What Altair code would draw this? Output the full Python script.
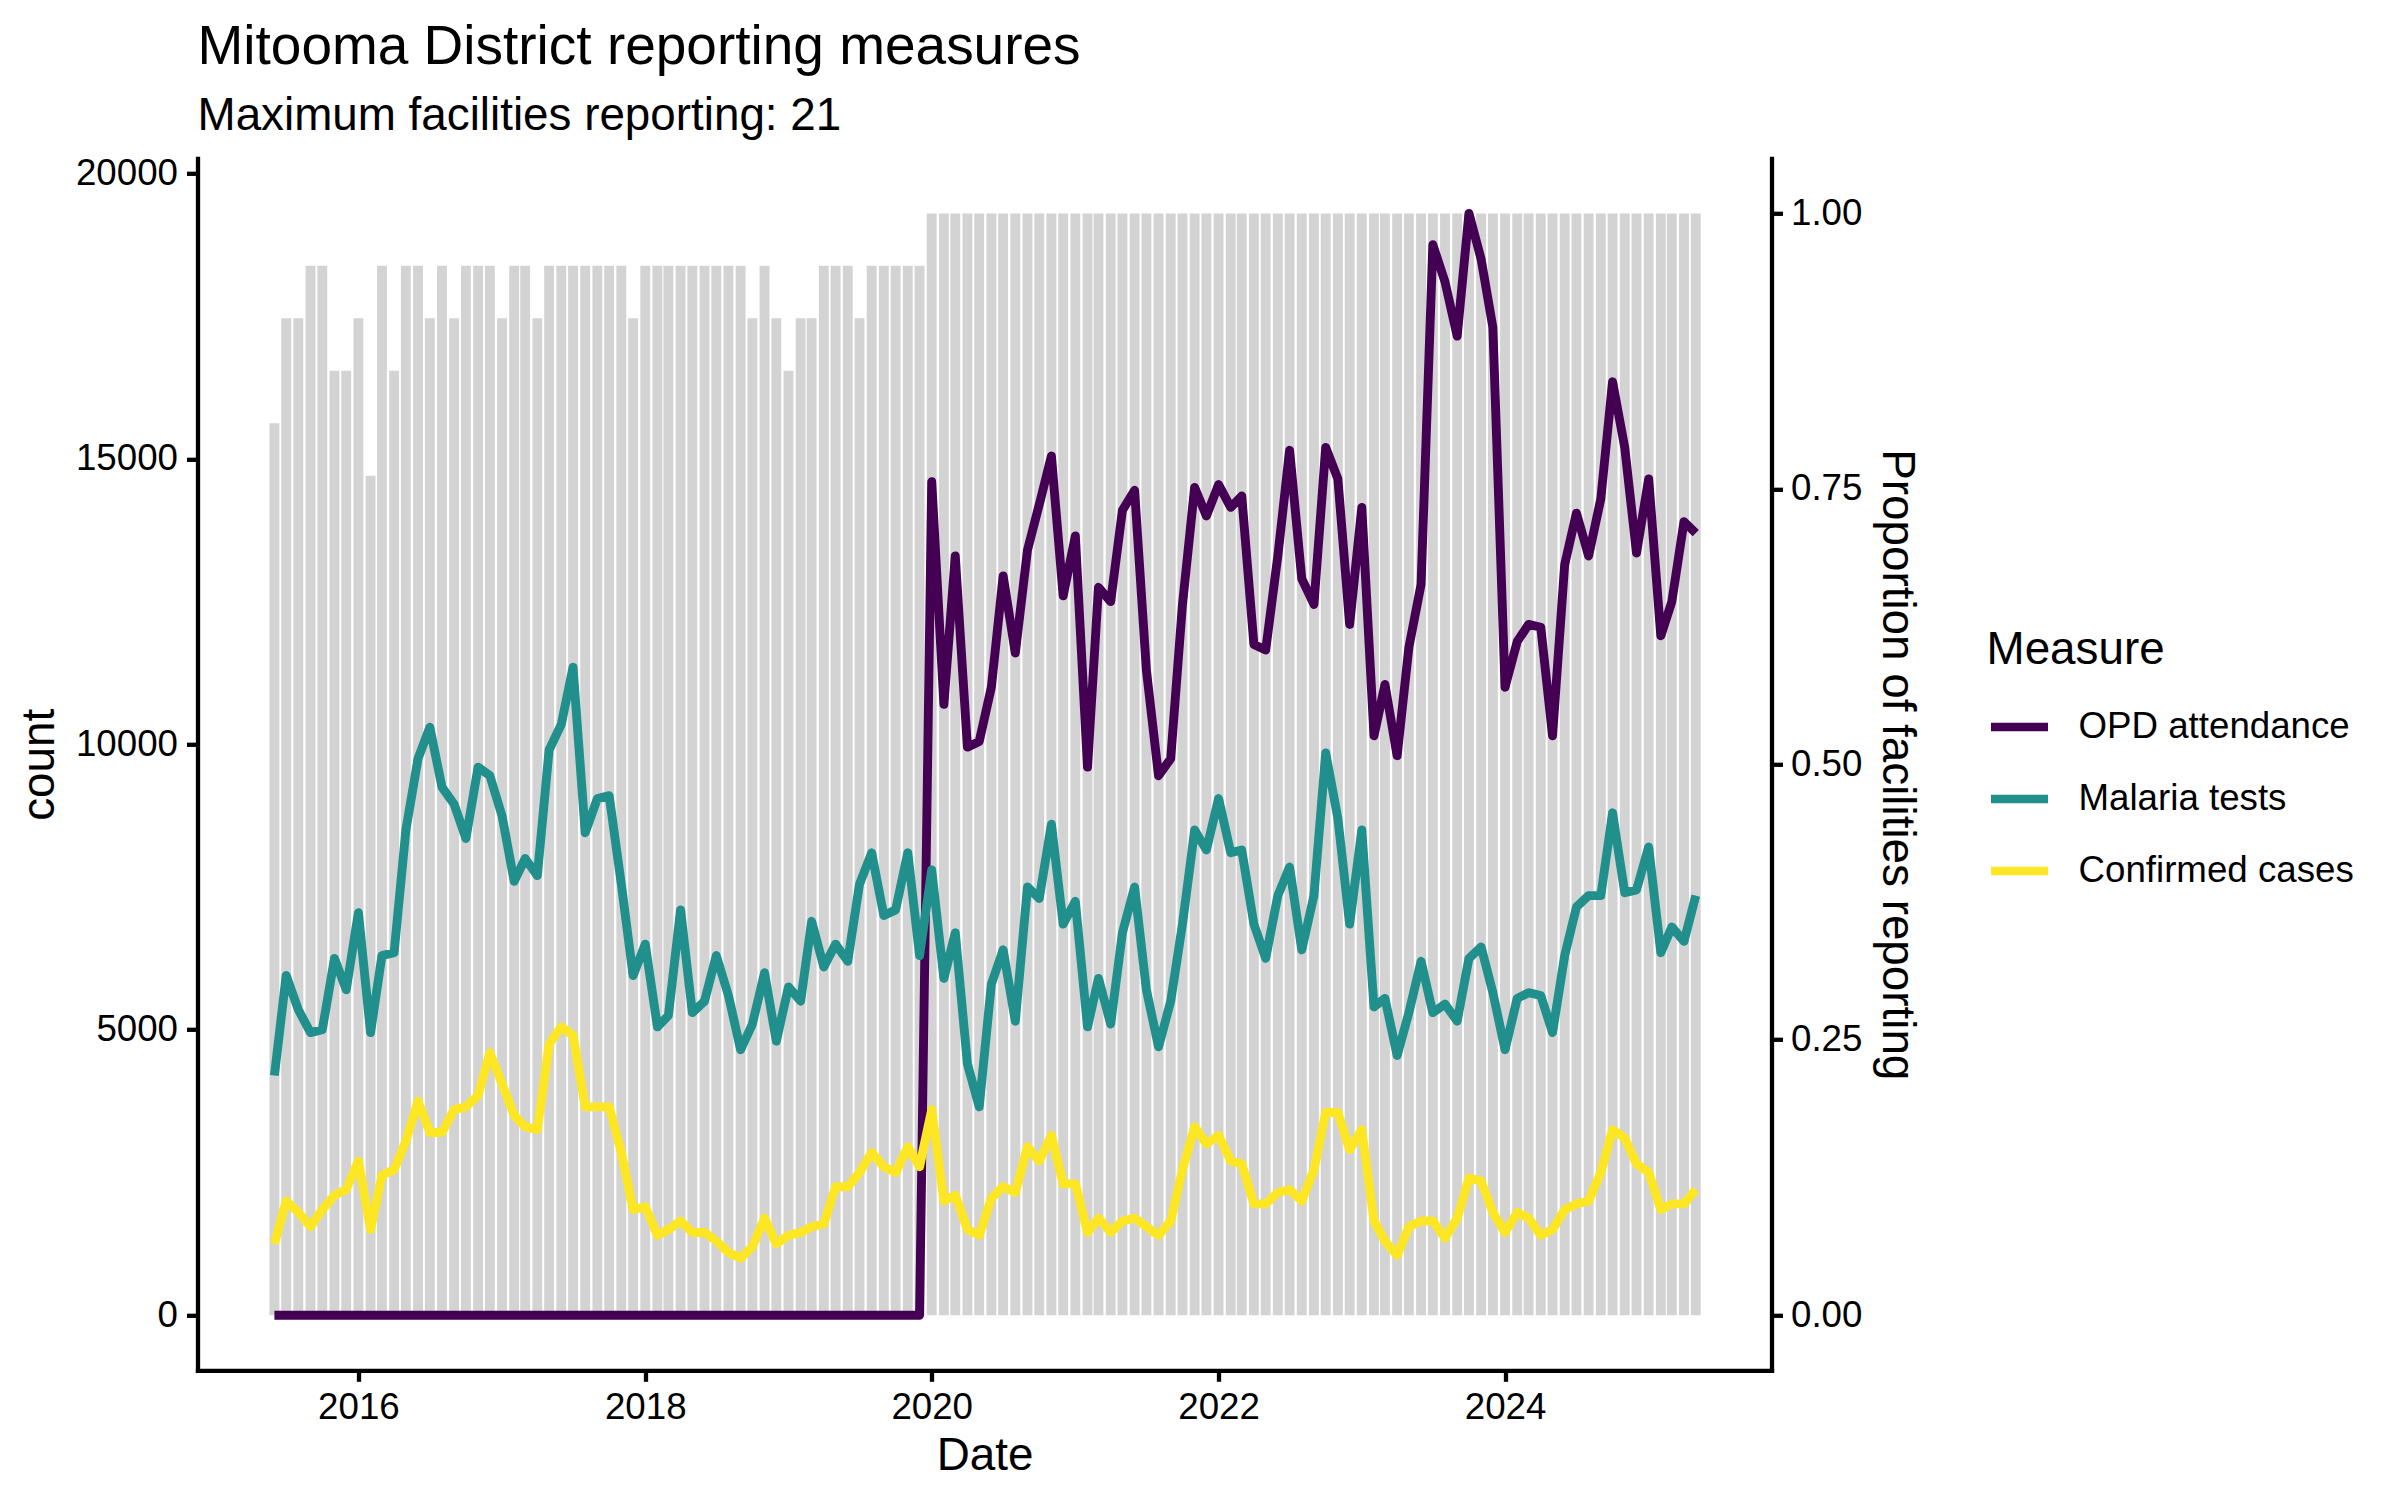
import altair as alt
import pandas as pd

# ---------------- data (monthly, Jun 2015 .. May 2025) ----------------
start_month = "2015-06-01"
n_months = 120
max_facilities = 21

facilities_reporting = [
    17, 19, 19, 20, 20, 18, 18, 19, 16, 20, 18,
    20, 20, 19, 20, 19, 20, 20, 20, 19, 20, 20, 19,
    20, 20, 20, 20, 20, 20, 20, 19,
    20, 20, 20, 20, 20, 20, 20, 20, 20,
    19, 20, 19, 18, 19, 19, 20, 20, 20, 19, 20, 20, 20, 20, 20,
] + [21] * 65

opd_attendance = [0] * 55 + [
    14600, 10700, 13300, 9950, 10050, 11000, 12950, 11600, 13400, 14200, 15050, 12600,
    13650, 9600, 12750, 12500, 14100, 14450, 11300, 9450, 9750, 12450, 14500, 14000,
    14550, 14150, 14350, 11750, 11650, 13300, 15150, 12900, 12450, 15200, 14650, 12100,
    14150, 10150, 11050, 9800, 11700, 12800, 18750, 18100, 17150, 19300, 18500, 17300,
    11000, 11800, 12100, 12050, 10150, 13150, 14050, 13300, 14300, 16350, 15200, 13350,
    14650, 11900, 12500, 13900, 13700,
]

malaria_tests = [
    4200, 5950, 5350, 4950, 5000, 6250, 5700, 7050, 4950, 6300, 6350, 8500,
    9750, 10300, 9250, 8950, 8350, 9600, 9450, 8750, 7600, 8000, 7700, 9900,
    10350, 11350, 8450, 9050, 9100, 7550, 5950, 6500, 5050, 5250, 7100, 5300,
    5500, 6300, 5600, 4650, 5100, 6000, 4800, 5750, 5500, 6900, 6100, 6500,
    6200, 7550, 8100, 7000, 7100, 8100, 6300, 7800, 5900, 6700, 4400, 3650,
    5800, 6400, 5150, 7500, 7300, 8600, 6850, 7250, 5050, 5900, 5100, 6700,
    7500, 5700, 4700, 5500, 6850, 8500, 8150, 9050, 8100, 8150, 6850, 6250,
    7350, 7850, 6400, 7350, 9850, 8700, 6850, 8500, 5400, 5550, 4550, 5300,
    6200, 5300, 5450, 5150, 6250, 6450, 5650, 4650, 5550, 5650, 5600, 4950,
    6300, 7150, 7350, 7350, 8800, 7400, 7450, 8200, 6350, 6800, 6550, 7350,
]

confirmed_cases = [
    1250, 2000, 1800, 1550, 1850, 2100, 2200, 2700, 1500, 2450, 2550, 3050,
    3750, 3200, 3200, 3600, 3650, 3850, 4600, 4050, 3500, 3300, 3250, 4750,
    5050, 4900, 3650, 3650, 3650, 2850, 1850, 1900, 1400, 1500, 1650, 1450,
    1450, 1300, 1100, 1000, 1200, 1700, 1250, 1400, 1450, 1550, 1600, 2250,
    2250, 2500, 2850, 2600, 2500, 2950, 2600, 3600, 2000, 2100, 1500, 1400,
    2050, 2250, 2150, 2950, 2700, 3150, 2300, 2300, 1450, 1700, 1450, 1650,
    1700, 1550, 1400, 1650, 2550, 3300, 3000, 3150, 2700, 2650, 1950, 1950,
    2150, 2200, 2000, 2550, 3550, 3550, 2900, 3250, 1650, 1300, 1050, 1550,
    1650, 1650, 1350, 1700, 2400, 2350, 1800, 1450, 1800, 1700, 1400, 1500,
    1850, 1950, 2000, 2500, 3250, 3100, 2650, 2500, 1850, 1950, 1950, 2200,
]

measures = ["OPD attendance", "Malaria tests", "Confirmed cases"]
measure_colors = ["#440154", "#21908C", "#FDE725"]

# ---------------- tables ----------------
dates = pd.date_range(start_month, periods=n_months, freq="MS")
fmt = "%Y-%m-%dT%H:%M:%SZ"
half_bar = pd.Timedelta(hours=12.6 * 24)

bar_df = pd.DataFrame({
    "start": (dates - half_bar).strftime(fmt),
    "end": (dates + half_bar).strftime(fmt),
    "prop": [f / max_facilities for f in facilities_reporting],
})

line_df = pd.concat([
    pd.DataFrame({"date": dates.strftime(fmt), "count": vals, "Measure": name})
    for name, vals in zip(measures, [opd_attendance, malaria_tests, confirmed_cases])
], ignore_index=True)

max_count = max(opd_attendance)

# ---------------- styling ----------------
FONT = "Liberation Sans"
TICK_FS = 36.7
TITLE_FS = 45.8
LW = 4.3

x_scale = alt.Scale(
    type="utc",
    domain=[alt.DateTime(year=2014, month=11, date=17, utc=True),
            alt.DateTime(year=2025, month=11, date=10, utc=True)],
    nice=False,
)
x_axis = alt.Axis(
    values=[alt.DateTime(year=y, month=1, date=1, utc=True) for y in [2016, 2018, 2020, 2022, 2024]],
    format="%Y", title="Date", grid=False, labelPadding=8.5, titlePadding=7,
)

bars = alt.Chart(bar_df).mark_bar(color="#D3D3D3").encode(
    x=alt.X("start:T", scale=x_scale, axis=x_axis, title="Date"),
    x2="end:T",
    y=alt.Y("prop:Q",
            scale=alt.Scale(domain=[-0.05, 1.05], nice=False, zero=False),
            axis=alt.Axis(orient="right", values=[0, 0.25, 0.5, 0.75, 1.0], format=".2f",
                          title="Proportion of facilities reporting", grid=False,
                          labelPadding=8, titlePadding=11)),
    y2=alt.datum(0),
)

lines = alt.Chart(line_df).mark_line(strokeWidth=8.9, strokeJoin="round", strokeCap="butt").encode(
    x=alt.X("date:T", scale=x_scale, axis=x_axis, title="Date"),
    y=alt.Y("count:Q",
            scale=alt.Scale(domain=[-0.05 * max_count, 1.05 * max_count], nice=False, zero=False),
            axis=alt.Axis(orient="left", values=[0, 5000, 10000, 15000, 20000], format="d",
                          title="count", grid=False, labelPadding=9, titlePadding=12)),
    color=alt.Color("Measure:N",
                    scale=alt.Scale(domain=measures, range=measure_colors),
                    sort=measures,
                    legend=alt.Legend(
                        title="Measure", orient="none", legendX=1789, legendY=470,
                        symbolType="stroke", symbolSize=3249, symbolStrokeWidth=8.5,
                        labelOffset=26, rowPadding=20, titlePadding=20,
                        titleFontSize=TITLE_FS, labelFontSize=TICK_FS,
                        titleFontWeight="normal", titleFont=FONT, labelFont=FONT,
                        titleColor="black", labelColor="black", padding=0,
                        labelLimit=0)),
    detail="Measure:N",
)

chart = alt.layer(bars, lines).resolve_scale(y="independent").properties(
    width=1574,
    height=1212,
    autosize=alt.AutoSizeParams(type="none"),
    padding={"left": 189.5, "top": 150.3, "right": 600, "bottom": 110},
    title=alt.TitleParams(
        text="Mitooma District reporting measures",
        subtitle="Maximum facilities reporting: 21",
        anchor="start", frame="group", offset=16,
        font=FONT, fontSize=55, fontWeight="normal", color="black",
        subtitleFont=FONT, subtitleFontSize=45.8, subtitleColor="black",
        subtitlePadding=18,
    ),
).configure_view(stroke=None).configure_axis(
    labelFont=FONT, titleFont=FONT,
    labelFontSize=TICK_FS, titleFontSize=TITLE_FS,
    labelColor="black", titleColor="black", titleFontWeight="normal",
    domainColor="black", domainWidth=LW, tickColor="black", tickWidth=LW, tickSize=11,
    domainCap="square",
)

chart.save("out.html", embed_options={"renderer": "svg", "actions": False})
